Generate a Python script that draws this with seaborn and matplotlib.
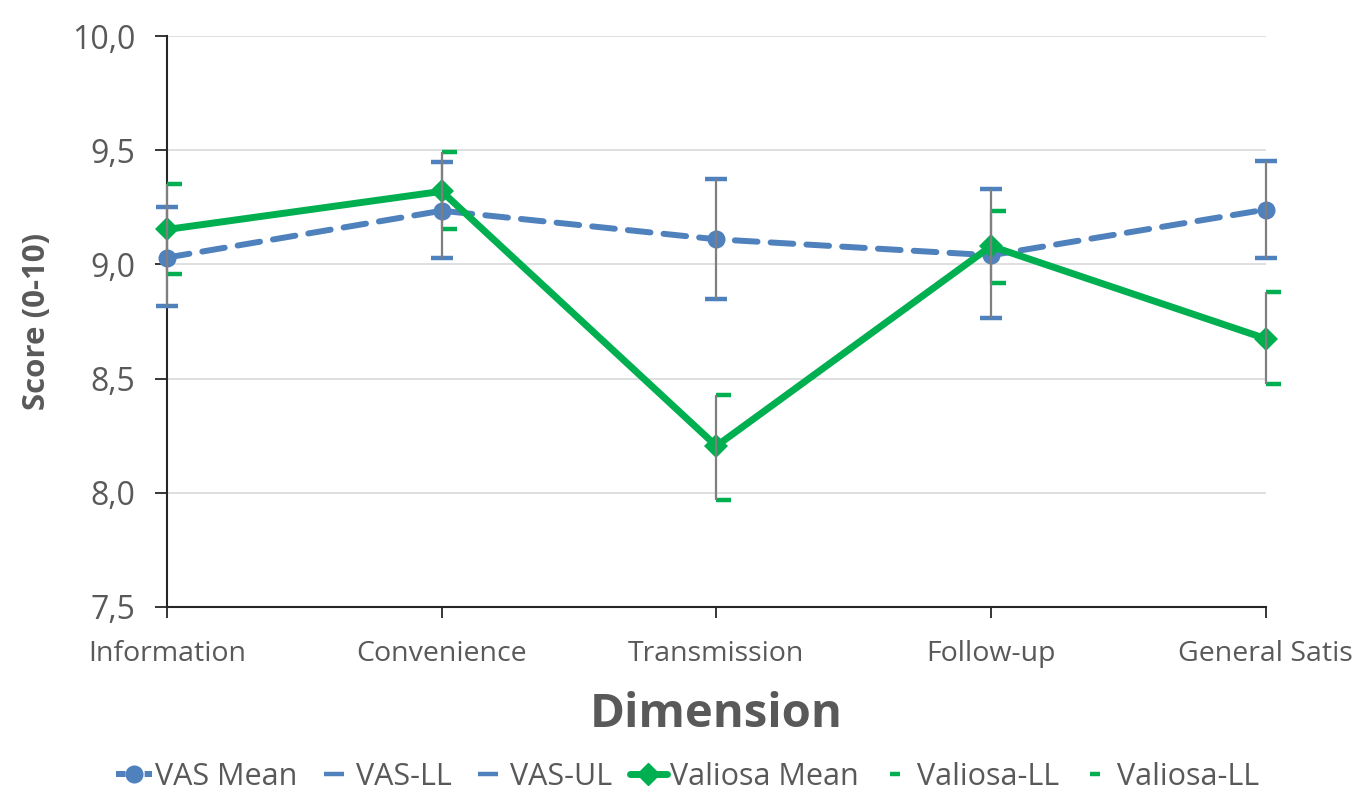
import matplotlib
matplotlib.use("Agg")
import matplotlib.pyplot as plt
import seaborn as sns
import pandas as pd
from matplotlib.path import Path
from matplotlib.ticker import FuncFormatter
from matplotlib.lines import Line2D

categories = ["Information", "Convenience", "Transmission", "Follow-up", "General Satis"]
vas_mean = [9.03, 9.235, 9.11, 9.04, 9.24]
vas_ll = [8.82, 9.03, 8.85, 8.765, 9.03]
vas_ul = [9.25, 9.45, 9.372, 9.33, 9.452]
val_mean = [9.153, 9.32, 8.205, 9.08, 8.675]
val_ll = [8.96, 9.153, 7.97, 8.92, 8.475]
val_ul = [9.35, 9.493, 8.43, 9.233, 8.88]

blue = "#4f81bd"
green = "#00b050"
grey_txt = "#595959"

sns.set_style("white")
plt.rcParams['font.family'] = ['Open Sans', 'DejaVu Sans']

df = pd.DataFrame({"Dimension": categories, "vas": vas_mean, "val": val_mean})
xs = list(range(len(categories)))

fig = plt.figure(figsize=(13.61, 7.97), dpi=100)
ax = fig.add_axes([0.1227, 0.2384, 0.8073, 0.7164])

sns.lineplot(data=df, x="Dimension", y="vas", ax=ax, color=blue, lw=4.3,
             marker="o", markersize=13, markeredgewidth=0, sort=False,
             dashes=False, zorder=3, clip_on=False)
ax.lines[-1].set_dashes((3.8, 2.2))
ax.lines[-1].set_dash_capstyle("round")
sns.lineplot(data=df, x="Dimension", y="val", ax=ax, color=green, lw=5,
             marker="D", markersize=12, markeredgewidth=0, sort=False, zorder=4,
             clip_on=False)

# error bars (thin grey)
ax.vlines(xs, vas_ll, vas_ul, color="#7f7f7f", lw=1.6, zorder=6, clip_on=False)
ax.vlines(xs, val_ll, val_ul, color="#7f7f7f", lw=1.6, zorder=6, clip_on=False)

# limit markers
half_dash = Path([(0, 0), (1, 0)])
ax.plot(xs, vas_ll, ls="none", marker="_", markersize=16, markeredgewidth=3.2, color=blue, zorder=5, clip_on=False)
ax.plot(xs, vas_ul, ls="none", marker="_", markersize=16, markeredgewidth=3.2, color=blue, zorder=5, clip_on=False)
ax.plot(xs, val_ll, ls="none", marker=half_dash, markersize=21, markeredgewidth=3.2, color=green, zorder=5, clip_on=False)
ax.plot(xs, val_ul, ls="none", marker=half_dash, markersize=21, markeredgewidth=3.2, color=green, zorder=5, clip_on=False)

ax.set_xlim(0, 4)
ax.set_ylim(7.5, 10.0)
ax.set_yticks([7.5, 8.0, 8.5, 9.0, 9.5, 10.0])
ax.yaxis.set_major_formatter(FuncFormatter(lambda v, p: f"{v:.1f}".replace(".", ",")))
ax.set_xticks(xs)
ax.set_xticklabels(categories)
ax.grid(axis="y", color="#d9d9d9", lw=1.2)
ax.grid(axis="x", visible=False)
ax.set_axisbelow(True)

for s in ["top", "right"]:
    ax.spines[s].set_visible(False)
for s in ["left", "bottom"]:
    ax.spines[s].set_color("#262626")
    ax.spines[s].set_linewidth(1.5)

ax.tick_params(axis="y", length=9, width=1.3, color="#262626", labelsize=23, labelcolor=grey_txt, pad=14, left=True)
ax.tick_params(axis="x", length=8, width=1.3, color="#262626", labelsize=20.5, labelcolor=grey_txt, pad=16, bottom=True)

ax.set_xlabel("Dimension", fontsize=34, fontweight="bold", color=grey_txt, labelpad=16)
ax.set_ylabel("Score (0-10)", fontsize=22.5, fontweight="bold", color=grey_txt, labelpad=14)

handles = [
    Line2D([], [], color=blue, lw=4.3, ls=(0, (1.6, 0.8)), marker="o", markersize=12),
    Line2D([], [], color=blue, ls="none", marker="_", markersize=15, markeredgewidth=3.2),
    Line2D([], [], color=blue, ls="none", marker="_", markersize=15, markeredgewidth=3.2),
    Line2D([], [], color=green, lw=5, marker="D", markersize=11),
    Line2D([], [], color=green, ls="none", marker="_", markersize=7, markeredgewidth=3.2),
    Line2D([], [], color=green, ls="none", marker="_", markersize=7, markeredgewidth=3.2),
]
labels = ["VAS Mean", "VAS-LL", "VAS-UL", "Valiosa Mean", "Valiosa-LL", "Valiosa-LL"]
leg = fig.legend(handles, labels, loc="center", bbox_to_anchor=(0.505, 0.025), ncol=6,
                 frameon=False, fontsize=22, handlelength=1.2, handletextpad=0.1,
                 columnspacing=0.6, labelcolor=grey_txt)

fig.savefig("out.png", dpi=100)
